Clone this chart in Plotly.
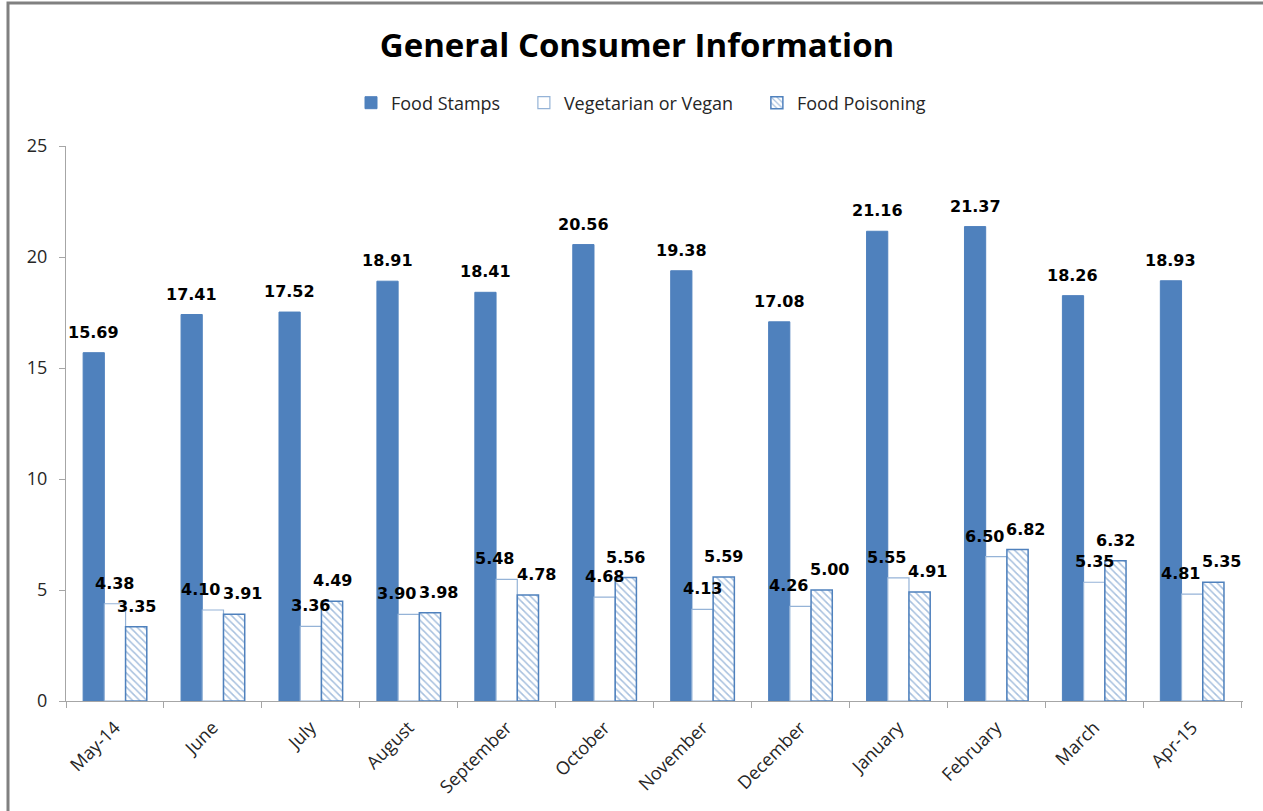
import plotly.graph_objects as go

months = ["May-14", "June", "July", "August", "September", "October",
          "November", "December", "January", "February", "March", "Apr-15"]
food_stamps = [15.69, 17.41, 17.52, 18.91, 18.41, 20.56, 19.38, 17.08, 21.16, 21.37, 18.26, 18.93]
vegetarian = [4.38, 4.10, 3.36, 3.90, 5.48, 4.68, 4.13, 4.26, 5.55, 6.50, 5.35, 4.81]
poisoning = [3.35, 3.91, 4.49, 3.98, 4.78, 5.56, 5.59, 5.00, 4.91, 6.82, 6.32, 5.35]

BLUE = "#4F81BD"
LIGHT = "#95B3D7"
FONT = "Open Sans"
NBSP = "\u00a0"

L, R, T, B = 66, 20, 146, 110
W, H = 1263, 811
pw, ph = W - L - R, H - T - B
BARGAP = 0.35
Y_MAX = 25

fig = go.Figure()
fig.add_trace(go.Bar(
    name="Food Stamps" + NBSP * 4, x=months, y=food_stamps,
    marker=dict(color=BLUE, line=dict(color=BLUE, width=1)),
))
fig.add_trace(go.Bar(
    name="Vegetarian or Vegan" + NBSP * 4, x=months, y=vegetarian,
    marker=dict(color="#FFFFFF", line=dict(color=LIGHT, width=1.2)),
))
fig.add_trace(go.Bar(
    name="Food Poisoning", x=months, y=poisoning,
    marker=dict(color="#FFFFFF", line=dict(color=BLUE, width=1.5),
                pattern=dict(shape="\\", fgcolor=BLUE, bgcolor="#FFFFFF",
                             size=5, solidity=0.3)),
))

# value labels above every bar, drawn on top of all bars
LABEL_SIZE = 16
label_w = LABEL_SIZE * (3 * 0.696 + 0.38)   # approx width of "d.dd" in DejaVu Sans Bold
label_h = LABEL_SIZE * 1.2
px_per_unit = ph / Y_MAX

series = [food_stamps, vegetarian, poisoning]
cat_w = pw / len(months)
bar_w = cat_w * (1 - BARGAP) / len(series)
base_dx = [(k - (len(series) - 1) / 2) * bar_w for k in range(len(series))]

for i, m in enumerate(months):
    dx = list(base_dx)
    # spread the two short-bar labels apart when they sit at a similar height
    dy_px = abs(vegetarian[i] - poisoning[i]) * px_per_unit
    if dy_px < label_h:
        need = (label_w + 2) - bar_w
        if need > 0:
            dx[1] -= 0.6 * need
            dx[2] += 0.4 * need
    for k, vals in enumerate(series):
        v = vals[i]
        fig.add_annotation(
            x=m, y=v, xref="x", yref="y", text=f"<b>{v:.2f}</b>",
            showarrow=False, xanchor="center", yanchor="bottom",
            xshift=dx[k], yshift=9,
            font=dict(family="DejaVu Sans", size=LABEL_SIZE, color="#000000"),
        )

fig.update_layout(
    width=W, height=H,
    margin=dict(l=L, r=R, t=T, b=B, pad=0),
    paper_bgcolor="white", plot_bgcolor="white",
    barmode="group", bargap=BARGAP, bargroupgap=0,
    title=dict(text="<b>General Consumer Information</b>",
               font=dict(family=FONT, size=33, color="#000000"),
               x=637 / W, xanchor="center", y=1 - 45 / H, yanchor="middle"),
    legend=dict(orientation="h", x=641 / W, xanchor="center",
                xref="container", yref="container",
                y=1 - 103 / H, yanchor="middle",
                font=dict(family=FONT, size=18, color="#262626"),
                itemwidth=30, traceorder="normal"),
    font=dict(family=FONT),
    showlegend=True,
)
fig.update_xaxes(
    showline=True, linecolor="#A6A6A6", linewidth=1,
    ticks="outside", tickson="boundaries", ticklen=6, tickcolor="#A6A6A6",
    tickangle=-45, ticklabelstandoff=8,
    tickfont=dict(family=FONT, size=18, color="#262626"),
    showgrid=False,
)
fig.update_yaxes(
    range=[0, Y_MAX], dtick=5, showline=True, linecolor="#A6A6A6", linewidth=1,
    ticks="outside", ticklen=6, tickcolor="#A6A6A6", ticklabelstandoff=8,
    tickfont=dict(family=FONT, size=18, color="#262626"),
    showgrid=False, zeroline=False,
)

# outer frame around the chart area
fig.add_shape(type="rect", xref="paper", yref="paper",
              x0=(8 - L) / pw, x1=(W + 40 - L) / pw,
              y0=-(B + 40) / ph, y1=1 + (T - 3) / ph,
              line=dict(color="#808080", width=3), layer="below")

fig.write_html("out.html")
